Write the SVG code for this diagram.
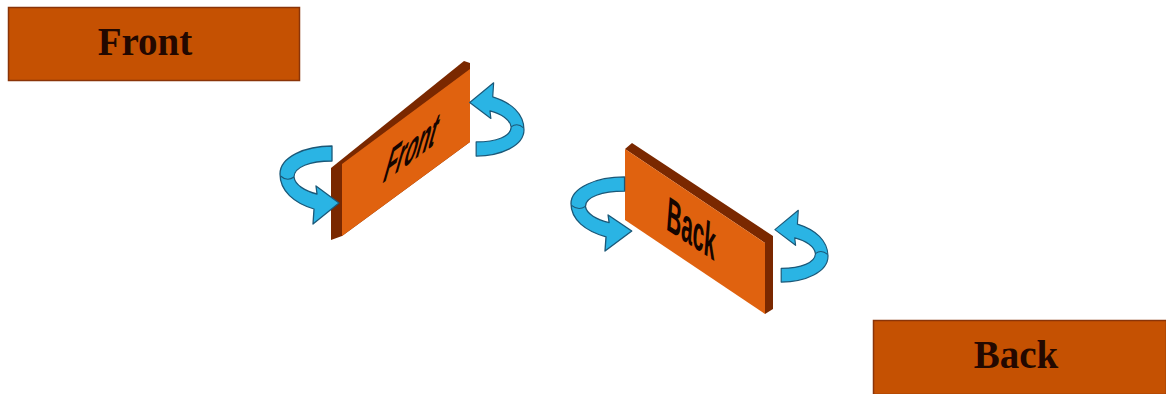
<svg xmlns="http://www.w3.org/2000/svg" width="1166" height="394" viewBox="0 0 1166 394">
<style>
.box{fill:#c55102;stroke:#8a3408;stroke-width:1.5}
.boxtxt{font-family:"Liberation Serif",serif;font-weight:bold;font-size:39px;fill:#230800;text-anchor:middle}
.face{fill:#e0620f}
.dark{fill:#7a2800}
.ptxt{font-family:"Liberation Sans",Arial,sans-serif;font-weight:bold;font-size:46px;fill:#150500;text-anchor:middle}
.arw{fill:#2ab4e4;stroke:#1b5878;stroke-width:1.3;stroke-linejoin:round}
.fold{fill:none;stroke:#1b5878;stroke-width:1.1}
</style>
<defs>
<g id="arrow">
<path class="arw" d="M52,1 C25,1 0,12 0,29 C0,46 14,58 34,64 L33,79 L59,58 L36,41 L37,49 C25,46 15,40 14,32 C14,22 30,16 52,16 Z"/>
<path class="fold" d="M0.5,31 C5,35 10,35 14,32"/>
</g>
</defs>
<rect width="1166" height="394" fill="#ffffff"/>
<g id="box-front">
<rect class="box" x="8.5" y="7.5" width="291" height="73"/>
<text class="boxtxt" x="145" y="55">Front</text>
</g>
<g id="box-back">
<rect class="box" x="873.5" y="320.5" width="293" height="74"/>
<text class="boxtxt" x="1016" y="368">Back</text>
</g>
<g id="panel-front">
<polygon class="dark" points="331,168 464,61 470,63 470,142 342,236 331,240"/>
<polygon class="face" points="342,164 470,69 470,142 342,236"/>
<text class="ptxt" transform="matrix(0.44,-0.328,-0.32,1.12,407,165)">Front</text>
</g>
<g id="panel-back">
<polygon class="dark" points="625,149 632,143 773,236 773,309 765,314 765,243"/>
<polygon class="face" points="625,149 765,243 765,314 625,220"/>
<text class="ptxt" transform="matrix(0.44,0.289,-0.08,1.04,690,245)">Back</text>
</g>
<g id="connectors">
<use href="#arrow" transform="translate(280,145)"/>
<use href="#arrow" transform="translate(524,157) rotate(180) scale(0.92,0.94)"/>
<use href="#arrow" transform="translate(571,176) scale(1.03,0.95)"/>
<use href="#arrow" transform="translate(828,283) rotate(180) scale(0.9,0.92)"/>
</g>
</svg>
